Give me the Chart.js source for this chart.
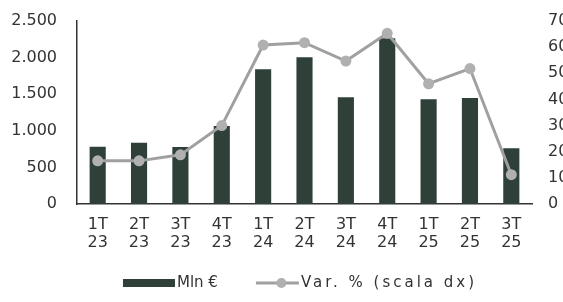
<!DOCTYPE html>
<html>
<head>
<meta charset="utf-8">
<script src="https://cdn.jsdelivr.net/npm/chart.js@4"></script>
<style>
  html, body { margin: 0; padding: 0; background: #fff; overflow: hidden; }
  #wrap { width: 600px; height: 302px; }
</style>
</head>
<body>
<div id="wrap"><canvas id="myChart"></canvas></div>
<script>
// quarters on the x axis, two lines each
var labels = [["1T", "23"], ["2T", "23"], ["3T", "23"], ["4T", "23"],
              ["1T", "24"], ["2T", "24"], ["3T", "24"], ["4T", "24"],
              ["1T", "25"], ["2T", "25"], ["3T", "25"]];

// bars, left scale (Mln €)
var mln = [783, 837, 779, 1066, 1840, 2004, 1457, 2263, 1430, 1448, 761];

// line, right scale (Var. %)
var varPct = [16.5, 16.5, 18.8, 30, 60.8, 61.7, 54.7, 65.3, 46, 51.8, 11.2];

var barLabel = "Mln €";
var lineLabel = "Var. % (scala dx)";

var barColor = "#2e4038";
var lineColor = "#a0a0a0";
var pointColor = "#b0b0b0";
var textColor = "#333333";
var font = { family: "DejaVu Sans", size: 16 };
var legendFont = { family: "DejaVu Sans", size: 15 };

function thousands(v) {
  return String(v).replace(/\B(?=(\d{3})+(?!\d))/g, ".");
}

// legend drawn by hand: a box for the bars, a line with a dot for the line
var bottomLegend = {
  id: "bottomLegend",
  afterDraw: function (chart) {
    var ctx = chart.ctx;
    ctx.save();
    ctx.font = legendFont.size + "px " + legendFont.family;
    ctx.textBaseline = "middle";
    var y = 283;
    var boxW = 52, lineW = 43, gap = 2, between = 38;
    var w1 = ctx.measureText(barLabel).width;
    ctx.letterSpacing = "3px";
    var w2 = ctx.measureText(lineLabel).width;
    ctx.letterSpacing = "0px";
    var total = boxW + gap + w1 + between + lineW + gap + w2;
    var x = chart.width / 2 - total / 2;

    ctx.fillStyle = barColor;
    ctx.fillRect(x, y - 4, boxW, 8);
    x += boxW + gap;
    ctx.fillStyle = textColor;
    ctx.fillText(barLabel, x, y);
    x += w1 + between;

    ctx.strokeStyle = lineColor;
    ctx.lineWidth = 3;
    ctx.beginPath();
    ctx.moveTo(x, y);
    ctx.lineTo(x + lineW, y);
    ctx.stroke();
    ctx.fillStyle = pointColor;
    ctx.beginPath();
    ctx.arc(x + lineW / 2 + 4, y, 5, 0, Math.PI * 2);
    ctx.fill();
    x += lineW + gap;
    ctx.fillStyle = textColor;
    ctx.letterSpacing = "3px";
    ctx.fillText(lineLabel, x, y);
    ctx.restore();
  }
};

var chartElement = document.getElementById("myChart").getContext("2d");

new Chart(chartElement, {
  data: {
    labels: labels,
    datasets: [
      {
        type: "line",
        label: lineLabel,
        data: varPct,
        yAxisID: "y1",
        borderColor: lineColor,
        borderWidth: 3,
        pointRadius: 5.5,
        pointBackgroundColor: pointColor,
        pointBorderWidth: 0,
        tension: 0,
        order: 0
      },
      {
        type: "bar",
        label: barLabel,
        data: mln,
        yAxisID: "y",
        backgroundColor: barColor,
        barPercentage: 0.39,
        categoryPercentage: 1,
        order: 1
      }
    ]
  },
  options: {
    responsive: true,
    maintainAspectRatio: false,
    animation: false,
    layout: { padding: 0 },
    plugins: {
      legend: { display: false },
      tooltip: { enabled: false }
    },
    scales: {
      x: {
        grid: { display: false, drawTicks: false },
        border: { color: "#333", width: 1.5 },
        ticks: { color: textColor, font: { family: font.family, size: font.size, lineHeight: 1.1 }, maxRotation: 0, padding: 12 },
        afterFit: function (s) { s.height = 98; }
      },
      y: {
        position: "left",
        min: 0,
        max: 2500,
        grid: { display: false, drawTicks: false },
        border: { color: "#333", width: 1.5 },
        ticks: { stepSize: 500, color: textColor, font: font, padding: 20, callback: thousands },
        afterFit: function (s) { s.width = 77; s.paddingTop = 21; }
      },
      y1: {
        position: "right",
        min: 0,
        max: 70,
        grid: { display: false, drawTicks: false, drawOnChartArea: false },
        border: { display: false },
        ticks: { stepSize: 10, color: textColor, font: font, padding: 16 },
        afterFit: function (s) { s.width = 68; s.paddingTop = 21; }
      }
    }
  },
  plugins: [bottomLegend]
});
</script>
</body>
</html>
